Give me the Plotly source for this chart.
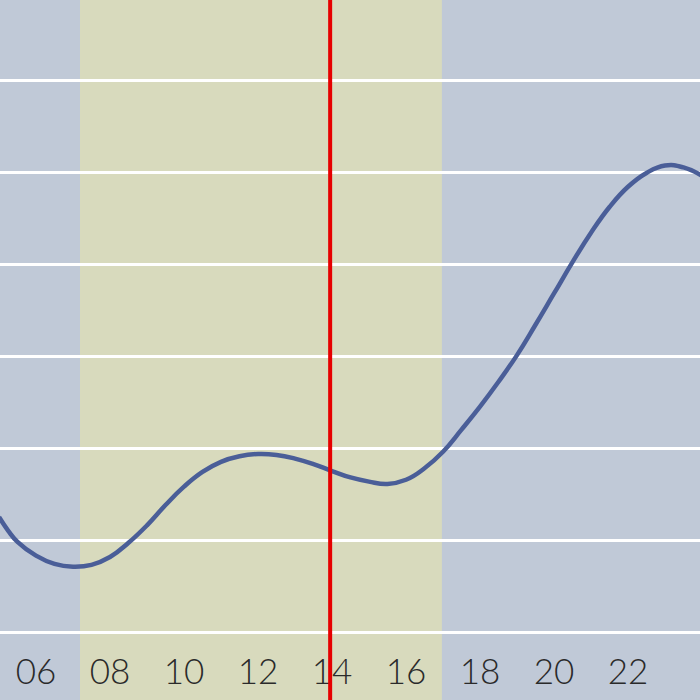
import plotly.graph_objects as go

hours = [5.0, 5.25, 5.5, 6.0, 6.5, 7.0, 7.5, 8.0, 8.5, 9.0, 9.5, 10.0, 10.5, 11.0, 11.5, 12.0,
         12.5, 13.0, 13.5, 14.0, 14.5, 15.0, 15.5, 16.0, 16.5, 17.0, 17.5, 18.0, 18.5, 19.0,
         19.5, 20.0, 20.5, 21.0, 21.5, 22.0, 22.5, 23.0, 23.5, 24.0]
level = [1.25, 1.10, 0.98, 0.83, 0.74, 0.71, 0.73, 0.815, 0.97, 1.16, 1.38, 1.58, 1.74, 1.85,
         1.91, 1.935, 1.925, 1.885, 1.825, 1.75, 1.68, 1.635, 1.61, 1.655, 1.78, 1.96, 2.20,
         2.45, 2.72, 3.01, 3.34, 3.68, 4.02, 4.34, 4.62, 4.84, 4.99, 5.07, 5.05, 4.96]
tick_vals = [6, 8, 10, 12, 14, 16, 18, 20, 22]
tick_text = ["06", "08", "10", "12", "14", "16", "18", "20", "22"]
daylight_start = 7.19
daylight_end = 16.97
now_hour = 13.95

fig = go.Figure()
fig.add_trace(go.Scatter(x=hours, y=level, mode="lines",
                         line=dict(color="#4a5e98", width=4.5, shape="spline", smoothing=1.3),
                         hoverinfo="skip"))

fig.add_shape(type="rect", xref="x", yref="paper", x0=daylight_start, x1=daylight_end,
              y0=0, y1=1, fillcolor="#d8dabd", line=dict(width=0), layer="below")
fig.add_shape(type="line", xref="x", yref="paper", x0=now_hour, x1=now_hour, y0=0, y1=1,
              line=dict(color="#e60000", width=4), layer="above")

fig.update_layout(
    width=700, height=700, margin=dict(l=0, r=0, t=0, b=0),
    paper_bgcolor="#c0c9d7", plot_bgcolor="#c0c9d7", showlegend=False,
    xaxis=dict(range=[5.027, 23.946], tickvals=tick_vals, ticktext=tick_text,
               ticklabelposition="inside", ticklabelstandoff=6, showgrid=False, zeroline=False,
               showline=False, ticks="",
               tickfont=dict(family="Lato", size=35, color="#2a2a2a", weight=300)),
    yaxis=dict(range=[-0.739, 6.870], dtick=1, tick0=0, showgrid=True, gridcolor="#ffffff",
               gridwidth=3, zeroline=False, showticklabels=False, ticks="", showline=False),
)
fig.write_html("out.html", config={"displayModeBar": False},
               post_script="document.body.style.margin='0';document.body.style.overflow='hidden';")
